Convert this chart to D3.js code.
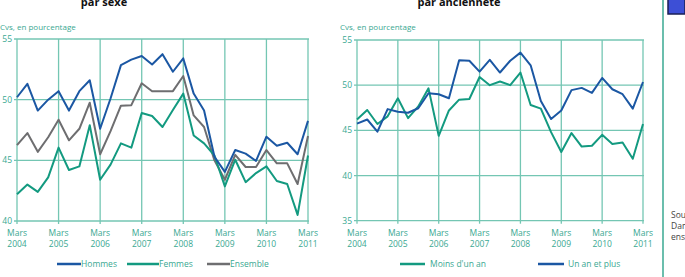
<!DOCTYPE html>
<html>
<head>
<meta charset="utf-8">
<script src="https://cdn.jsdelivr.net/npm/d3@7"></script>
<style>
  body { margin: 0; background: #fff; }
  svg { display: block; font-family: "Open Sans", sans-serif; }
</style>
</head>
<body>
<svg id="chart" width="685" height="277"></svg>
<script>
// quarterly points, Mars 2004 -> Mars 2011
var years = ["2004", "2005", "2006", "2007", "2008", "2009", "2010", "2011"];

var hommes = [50.2, 51.3, 49.1, 50.0, 50.7, 49.1, 50.7, 51.6, 47.6, 50.1, 52.85, 53.3, 53.6, 52.9, 53.75, 52.3, 53.4, 50.5, 49.1, 45.3, 44.05, 45.85, 45.55, 44.95, 46.95, 46.2, 46.45, 45.5, 48.25];
var femmes = [42.2, 43.0, 42.4, 43.6, 46.05, 44.2, 44.5, 47.9, 43.4, 44.65, 46.4, 46.05, 48.9, 48.65, 47.75, 49.15, 50.5, 47.05, 46.4, 45.4, 42.85, 45.05, 43.2, 43.95, 44.5, 43.3, 43.05, 40.5, 45.4];
var ensemble = [46.25, 47.25, 45.7, 46.9, 48.35, 46.65, 47.6, 49.75, 45.5, 47.4, 49.5, 49.55, 51.35, 50.7, 50.7, 50.7, 51.95, 48.7, 47.75, 45.0, 43.4, 45.45, 44.45, 44.45, 45.85, 44.75, 44.75, 43.05, 47.0];

var moinsUnAn = [46.2, 47.25, 45.7, 46.55, 48.55, 46.35, 47.65, 49.65, 44.4, 47.2, 48.4, 48.47, 50.9, 50.0, 50.4, 50.0, 51.4, 47.8, 47.4, 44.8, 42.6, 44.7, 43.2, 43.3, 44.5, 43.5, 43.65, 41.85, 45.7];
var unAnPlus = [45.75, 46.2, 44.85, 47.35, 47.05, 46.95, 47.45, 49.1, 49.0, 48.55, 52.75, 52.7, 51.5, 52.8, 51.4, 52.7, 53.6, 52.2, 48.25, 46.25, 47.2, 49.45, 49.7, 49.15, 50.8, 49.55, 49.0, 47.4, 50.35];

var yTicksLeft = [40, 45, 50, 55];
var yTicksRight = [35, 40, 45, 50, 55];

var teal = "#3aa892";
var grid = "#74c6b3";
var blue = "#1b57a3";
var green = "#139a80";
var grey = "#6e6e70";

var svg = d3.select("#chart");

function panel(opt) {
    var x = d3.scaleLinear().domain([0, 28]).range(opt.xr);
    var y = d3.scaleLinear().domain(d3.extent(opt.yticks)).range(opt.yr);
    var g = svg.append("g");

    // title (cut at top in the source)
    g.append("text").attr("x", opt.titleX).attr("y", 6)
        .attr("text-anchor", "middle").attr("font-weight", "bold")
        .attr("font-size", 11).attr("fill", "#111").text(opt.title);

    g.append("text").attr("x", opt.xr[0] - 17).attr("y", 30)
        .attr("font-size", 8).attr("fill", teal).text("Cvs, en pourcentage");

    // grid
    g.selectAll(".hg").data(opt.yticks).enter().append("line")
        .attr("x1", opt.xr[0] - 3).attr("x2", opt.xr[1] + 1)
        .attr("y1", function(d){ return y(d); }).attr("y2", function(d){ return y(d); })
        .attr("stroke", grid).attr("stroke-width", 1.3);
    var yi = d3.range(0, 29, 4);
    g.selectAll(".vg").data(yi).enter().append("line")
        .attr("x1", function(d){ return x(d); }).attr("x2", function(d){ return x(d); })
        .attr("y1", opt.yr[1]).attr("y2", opt.yr[0] + 3)
        .attr("stroke", grid).attr("stroke-width", 1.3);

    g.selectAll(".yl").data(opt.yticks).enter().append("text")
        .attr("x", opt.xr[0] - 5).attr("y", function(d){ return y(d) + 3; })
        .attr("text-anchor", "end").attr("font-size", 8.5).attr("fill", teal)
        .text(function(d){ return d; });

    var xl = g.selectAll(".xl").data(yi).enter().append("text")
        .attr("text-anchor", "middle").attr("font-size", 8.5).attr("fill", teal);
    xl.append("tspan").attr("x", function(d){ return x(d); }).attr("y", opt.yr[0] + 15).text("Mars");
    xl.append("tspan").attr("x", function(d){ return x(d); }).attr("y", opt.yr[0] + 26)
        .text(function(d, i){ return years[i]; });

    var line = d3.line().x(function(d, i){ return x(i); }).y(function(d){ return y(d); });
    opt.series.forEach(function(s) {
        g.append("path").datum(s.values).attr("d", line)
            .attr("fill", "none").attr("stroke", s.color).attr("stroke-width", 2)
            .attr("stroke-linejoin", "round");
    });

    // legend
    opt.series.forEach(function(s) {
        g.append("line").attr("x1", s.lx).attr("x2", s.lx + s.lw)
            .attr("y1", 264).attr("y2", 264)
            .attr("stroke", s.color).attr("stroke-width", 2.5);
        g.append("text").attr("x", s.lx + s.lw + s.gap).attr("y", 267)
            .attr("font-size", 8.5).attr("fill", teal).text(s.name);
    });
}

panel({
    title: "par sexe", titleX: 104,
    xr: [17, 308], yr: [221, 39], yticks: yTicksLeft,
    series: [
        { name: "Ensemble", values: ensemble, color: grey, lx: 207, lw: 23, gap: 0 },
        { name: "Femmes", values: femmes, color: green, lx: 127, lw: 32, gap: 0 },
        { name: "Hommes", values: hommes, color: blue, lx: 57, lw: 24, gap: 0 }
    ]
});

panel({
    title: "par ancienneté", titleX: 459,
    xr: [357, 643], yr: [220.7, 40], yticks: yTicksRight,
    series: [
        { name: "Moins d'un an", values: moinsUnAn, color: green, lx: 400, lw: 25, gap: 5 },
        { name: "Un an et plus", values: unAnPlus, color: blue, lx: 538, lw: 26, gap: 4 }
    ]
});

// right margin: separator, cut icon and source notes
svg.append("line").attr("x1", 663).attr("x2", 663).attr("y1", 0).attr("y2", 277)
    .attr("stroke", teal).attr("stroke-width", 1.5);
svg.append("rect").attr("x", 668).attr("y", -1).attr("width", 17).attr("height", 15)
    .attr("fill", "#3d4fd6").attr("stroke", "#1a1f55").attr("stroke-width", 1.5);
svg.selectAll(".src").data(["Sources", "Dans", "ensemble"]).enter().append("text")
    .attr("x", 671).attr("y", function(d, i){ return 218 + i * 11; })
    .attr("font-size", 8.5).attr("fill", "#444").text(function(d){ return d; });
</script>
</body>
</html>
